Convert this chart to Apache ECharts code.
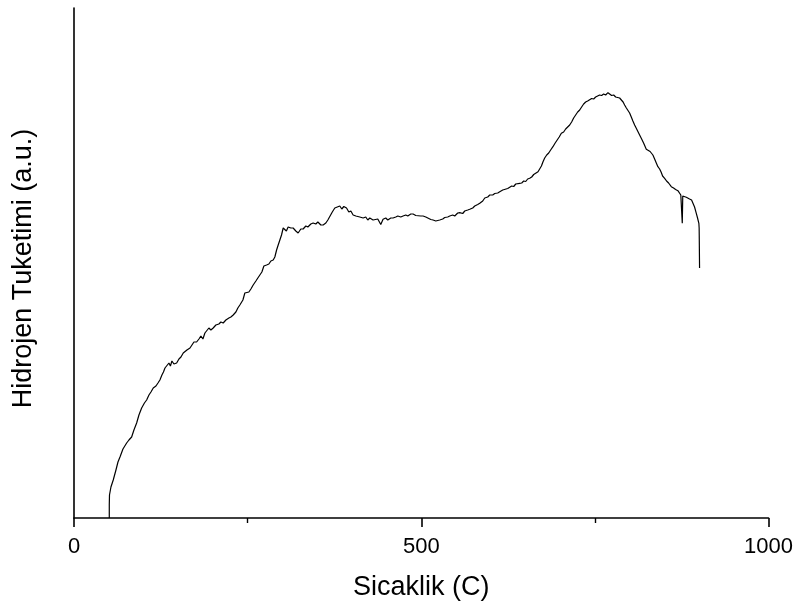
<!DOCTYPE html>
<html>
<head>
<meta charset="utf-8">
<script src="https://cdn.jsdelivr.net/npm/echarts@6/dist/echarts.min.js"></script>
<style>
  html, body { margin: 0; padding: 0; background: #ffffff; }
  #chart { width: 796px; height: 608px; }
</style>
</head>
<body>
<div id="chart"></div>
<script>
// TPR trace: temperature (C) and hydrogen consumption (arbitrary units)
const tempC = [
  50.8, 50.8, 51.1, 53.2, 56.5, 60.4, 63.3, 66.2, 70.5, 75.8, 79.1, 83.0, 86.3, 90.2, 93.5, 97.4,
  99.3, 101.4, 104.6, 107.9, 110.8, 114.1, 118.0, 120.9, 123.7, 126.6, 128.8, 131.0, 133.8, 136.7,
  138.8, 141.0, 143.9, 147.8, 151.1, 154.0, 157.3, 159.7, 162.6, 167.0, 169.8, 172.7, 176.5, 179.9,
  182.7, 185.6, 188.5, 190.9, 194.2, 197.1, 200.4, 204.3, 208.6, 211.5, 214.8, 218.7, 223.0, 225.9,
  229.2, 233.1, 235.9, 238.8, 243.2, 246.0, 248.5, 251.8, 254.7, 258.0, 261.9, 264.7, 267.6, 270.5,
  273.4, 277.3, 280.6, 283.5, 286.8, 289.2, 291.7, 294.0, 296.4, 298.8, 301.2, 303.6, 305.8, 308.3,
  312.2, 315.5, 319.4, 322.7, 326.6, 329.9, 333.8, 336.7, 341.0, 344.3, 348.2, 351.1, 355.4, 358.7,
  362.6, 365.5, 368.3, 371.9, 375.5, 379.1, 382.7, 385.6, 388.5, 392.4, 395.7, 398.6, 401.9, 405.8,
  408.6, 411.5, 416.3, 420.1, 423.0, 425.9, 430.6, 433.1, 437.4, 441.7, 445.0, 448.9, 451.8, 456.1,
  459.4, 463.3, 466.2, 470.5, 473.8, 477.7, 480.6, 484.9, 488.2, 492.1, 494.8, 499.3, 502.6, 506.5,
  509.4, 513.7, 517.0, 520.9, 523.7, 526.6, 530.9, 533.8, 538.1, 541.0, 545.3, 548.2, 552.5, 555.4,
  559.7, 562.6, 566.9, 569.8, 574.1, 577.0, 581.3, 584.2, 588.5, 591.4, 595.7, 598.6, 602.9, 605.8,
  610.1, 613.0, 617.3, 620.1, 624.5, 627.3, 630.2, 633.1, 636.0, 638.8, 641.7, 644.6, 647.5, 650.4,
  653.2, 656.1, 659.0, 661.9, 664.7, 668.1, 670.5, 673.0, 675.3, 677.7, 680.6, 683.5, 686.3, 689.6,
  692.8, 695.7, 698.6, 701.7, 705.0, 707.9, 710.8, 713.7, 716.5, 719.4, 722.3, 725.2, 728.1, 730.9,
  733.8, 736.7, 739.6, 742.4, 745.3, 748.2, 751.1, 753.9, 756.8, 759.7, 762.6, 765.5, 768.8, 771.2,
  774.1, 777.0, 779.9, 782.7, 785.6, 788.1, 790.6, 792.8, 795.3, 797.6, 800.0, 802.4, 804.7, 807.2,
  809.4, 811.5, 814.4, 817.3, 820.1, 824.0, 826.6, 829.5, 833.5, 836.0, 838.4, 840.7, 843.2, 845.3,
  847.5, 850.4, 853.2, 856.1, 860.0, 863.3, 866.2, 869.5, 872.1, 873.7, 875.1, 875.8, 876.5, 879.1,
  881.6, 884.2, 886.3, 889.2, 891.1, 893.5, 896.0, 897.8, 899.7, 900.1, 900.3, 900.7
];
const h2Signal = [
  0, 13, 23, 31, 38, 48, 56, 61, 69, 75, 78, 81, 88, 95, 103, 110,
  112, 115, 118, 123, 126, 130, 132, 135, 138, 143, 146, 150, 152, 155,
  152, 157, 154, 155, 159, 161, 165, 163, 168, 170, 172, 176, 176, 179,
  182, 179, 185, 186, 190, 188, 190, 193, 194, 196, 195, 198, 200, 201,
  203, 206, 210, 213, 218, 225, 223, 226, 229, 233, 237, 240, 243, 246,
  252, 253, 254, 257, 258, 261, 268, 273, 278, 283, 290, 291, 287, 291,
  290, 290, 287, 285, 289, 289, 292, 291, 294, 295, 294, 296, 293, 293,
  295, 298, 300, 306, 310, 311, 312, 309, 311.5, 310, 306, 307, 303, 302,
  304, 301, 300, 301, 298, 300, 298, 296, 299, 293.5, 298.7, 300, 298, 300,
  300, 301, 302, 301, 302, 303, 302, 304, 304, 302.5, 304, 302, 302, 301,
  300, 298.5, 298, 297, 298.5, 298, 299, 300.5, 301, 302, 303, 302, 305, 305.3,
  304.5, 307, 308, 308.7, 310, 312, 313.5, 314.7, 317, 320, 321, 323, 323, 324.5,
  325, 326.3, 328, 329, 329.5, 329.7, 332, 331.5, 334, 333, 334.7, 335, 337, 336.5,
  339, 339.7, 341, 343.5, 345, 346.3, 348, 352, 356.3, 360, 363, 365, 368, 371.3,
  375, 378, 381, 384.7, 386, 389, 391, 393, 396, 400, 403, 406, 408, 411,
  414, 416, 417, 418, 419.5, 419, 421, 420.5, 423, 422.5, 424, 423, 425.3, 424,
  422.5, 423, 421, 421, 420, 418.7, 416, 413, 410, 408, 405, 401, 397, 393,
  390, 389, 383, 379, 375, 368.7, 368, 366.5, 363, 359, 355, 351.3, 349, 346,
  342, 339.7, 337, 335, 331.3, 330, 328.5, 327.3, 328, 323, 325, 294.7, 322, 322,
  320.7, 321, 319, 318, 316.3, 311, 304.7, 300, 294.7, 290, 278, 250
];
const xTicks = [0, 500, 1000];

const trace = tempC.map((t, i) => [t, h2Signal[i]]);

const chart = echarts.init(document.getElementById('chart'), null, { renderer: 'canvas' });
const font = "'Liberation Sans', Arial, sans-serif";

chart.setOption({
  animation: false,
  backgroundColor: '#ffffff',
  grid: { left: 74, right: 27, top: 8, bottom: 90, containLabel: false },
  xAxis: {
    type: 'value',
    min: xTicks[0],
    max: xTicks[xTicks.length - 1],
    interval: 500,
    name: 'Sicaklik (C)',
    nameLocation: 'middle',
    nameGap: 56,
    nameTextStyle: { fontFamily: font, fontSize: 27, color: '#000' },
    axisLine: { show: true, onZero: false, lineStyle: { color: '#000', width: 1.6 } },
    axisTick: { show: true, inside: false, length: 9, lineStyle: { color: '#000', width: 1.6 } },
    minorTick: { show: true, splitNumber: 2, length: 5, lineStyle: { color: '#000', width: 1.4 } },
    axisLabel: {
      fontFamily: font, fontSize: 22, color: '#000', margin: 18,
      formatter: (v) => String(v)
    },
    splitLine: { show: false },
    minorSplitLine: { show: false }
  },
  yAxis: {
    type: 'value',
    min: 0,
    max: 510,
    name: 'Hidrojen Tuketimi (a.u.)',
    nameLocation: 'middle',
    nameGap: 37,
    nameTextStyle: { fontFamily: font, fontSize: 27, color: '#000', padding: [0, 11, 0, 0] },
    axisLine: { show: true, onZero: false, lineStyle: { color: '#000', width: 1.6 } },
    axisTick: { show: false },
    axisLabel: { show: false },
    splitLine: { show: false }
  },
  series: [{
    type: 'line',
    data: trace,
    showSymbol: false,
    symbol: 'none',
    lineStyle: { color: '#000', width: 1.2 },
    clip: false
  }]
});
</script>
</body>
</html>
